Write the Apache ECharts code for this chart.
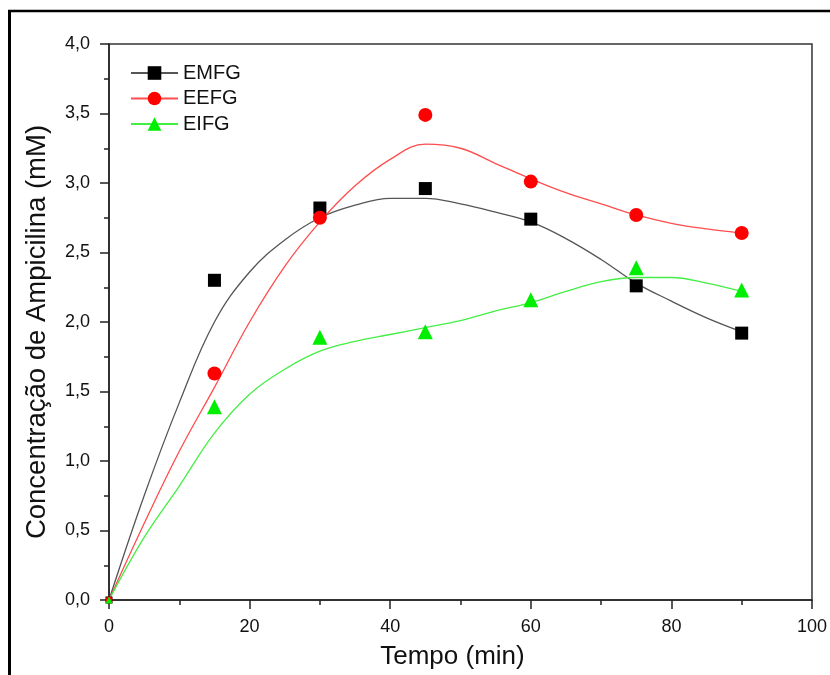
<!DOCTYPE html>
<html>
<head>
<meta charset="utf-8">
<script src="https://cdn.jsdelivr.net/npm/echarts@6/dist/echarts.min.js"></script>
<style>
html,body{margin:0;padding:0;background:#fff;}
#chart{width:830px;height:675px;}
</style>
</head>
<body>
<div id="chart"></div>
<script>
// Measured points (time in min, concentration in mM)
const timePoints = [0, 15, 30, 45, 60, 75, 90];
const emfgValues = [0, 2.30, 2.82, 2.96, 2.74, 2.26, 1.92];
const eefgValues = [0, 1.63, 2.75, 3.49, 3.01, 2.77, 2.64];
const eifgValues = [0, 1.39, 1.89, 1.93, 2.16, 2.39, 2.23];

// Fitted curves
const curveTimes = [0, 5, 10, 15, 20, 25, 30, 35, 40, 45, 50, 55, 60, 65, 70, 75, 80, 85, 90];
const emfgCurve = [0, 0.75, 1.42, 2.0, 2.36, 2.59, 2.75, 2.84, 2.89, 2.89, 2.85, 2.79, 2.72, 2.60, 2.45, 2.28, 2.15, 2.03, 1.93];
const eefgCurve = [0, 0.55, 1.07, 1.53, 2.0, 2.40, 2.72, 2.98, 3.17, 3.28, 3.25, 3.14, 3.03, 2.93, 2.85, 2.77, 2.71, 2.67, 2.64];
const eifgCurve = [0, 0.45, 0.82, 1.20, 1.48, 1.66, 1.79, 1.86, 1.91, 1.96, 2.01, 2.08, 2.14, 2.22, 2.29, 2.32, 2.32, 2.28, 2.22];

const seriesNames = ['EMFG', 'EEFG', 'EIFG'];
const xTicks = [0, 20, 40, 60, 80, 100];
const yTicks = [0, 0.5, 1.0, 1.5, 2.0, 2.5, 3.0, 3.5, 4.0];

const FONT = 'Liberation Sans, Arial, sans-serif';
const pair = (xs, ys) => xs.map((x, i) => [x, ys[i]]);

const styles = [
  {name: seriesNames[0], pts: emfgValues, curve: emfgCurve, symbol: 'rect', size: 13, mark: '#000000', line: '#555555'},
  {name: seriesNames[1], pts: eefgValues, curve: eefgCurve, symbol: 'circle', size: 14, mark: '#ff0000', line: '#ff4d4d'},
  {name: seriesNames[2], pts: eifgValues, curve: eifgCurve, symbol: 'triangle', size: 15, mark: '#00ee00', line: '#44ee44'}
];

const series = [];
styles.forEach(s => {
  series.push({
    name: s.name,
    type: 'line',
    data: pair(curveTimes, s.curve),
    smooth: 0.4,
    showSymbol: false,
    symbol: s.symbol,
    itemStyle: {color: s.mark},
    lineStyle: {color: s.line, width: 1.3},
    z: 2,
    silent: true
  });
});
styles.forEach(s => {
  series.push({
    name: s.name + ' dados',
    type: 'scatter',
    data: pair(timePoints, s.pts).map((p, i) => i === 0 ? {value: p, symbolSize: 7} : p),
    symbol: s.symbol,
    symbolSize: s.size,
    itemStyle: {color: s.mark, opacity: 1},
    z: 3
  });
});

const chart = echarts.init(document.getElementById('chart'), null, {renderer: 'canvas'});
chart.setOption({
  animation: false,
  backgroundColor: '#ffffff',
  textStyle: {fontFamily: FONT},
  grid: {left: 109, right: 17, top: 44, bottom: 75, show: true, borderColor: '#333', borderWidth: 1.5},
  legend: {
    data: seriesNames,
    orient: 'vertical',
    left: 125,
    top: 58,
    itemWidth: 47,
    itemHeight: 17,
    itemGap: 5.5,
    textStyle: {fontFamily: FONT, fontSize: 20, color: '#111'},
    selectedMode: false
  },
  xAxis: {
    type: 'value',
    min: 0, max: 100, interval: 20,
    name: 'Tempo (min)',
    nameLocation: 'middle',
    nameGap: 44,
    nameTextStyle: {fontFamily: FONT, fontSize: 26, color: '#111', padding: [0, 16, 0, 0]},
    axisLine: {show: true, lineStyle: {color: '#222', width: 1.5}},
    axisTick: {show: true, inside: false, length: 9, lineStyle: {color: '#222', width: 1.5}},
    minorTick: {show: true, splitNumber: 2, length: 5, lineStyle: {color: '#222', width: 1.5}},
    splitLine: {show: false},
    axisLabel: {margin: 18, fontSize: 18, color: '#111', fontFamily: FONT,
      formatter: v => xTicks.includes(v) ? String(v) : ''}
  },
  yAxis: {
    type: 'value',
    min: 0, max: 4, interval: 0.5,
    name: 'Concentração de Ampicilina (mM)',
    nameLocation: 'middle',
    nameGap: 58,
    nameTextStyle: {fontFamily: FONT, fontSize: 27.5, color: '#111', padding: [0, 20, 0, 0]},
    axisLine: {show: true, lineStyle: {color: '#222', width: 1.5}},
    axisTick: {show: true, inside: false, length: 9, lineStyle: {color: '#222', width: 1.5}},
    minorTick: {show: true, splitNumber: 2, length: 5, lineStyle: {color: '#222', width: 1.5}},
    splitLine: {show: false},
    axisLabel: {margin: 19, fontSize: 18, color: '#111', fontFamily: FONT,
      formatter: v => yTicks.some(t => Math.abs(t - v) < 1e-9) ? v.toFixed(1).replace('.', ',') : ''}
  },
  graphic: [
    {type: 'line', shape: {x1: 9.5, y1: 10, x2: 9.5, y2: 675}, style: {stroke: '#000', lineWidth: 3}, silent: true},
    {type: 'line', shape: {x1: 8, y1: 11, x2: 830, y2: 11}, style: {stroke: '#000', lineWidth: 2.5}, silent: true}
  ],
  series: series
});
</script>
</body>
</html>
